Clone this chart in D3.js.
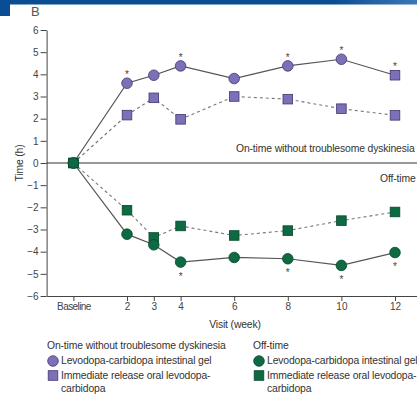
<!DOCTYPE html>
<html>
<head>
<meta charset="utf-8">
<script src="https://cdn.jsdelivr.net/npm/d3@7"></script>
<style>
  body { margin: 0; background: #fff; }
  svg { display: block; font-family: "Liberation Sans", Arial, sans-serif; }
  .tick text { font-size: 10px; fill: #444; }
  .lbl { font-size: 10.4px; fill: #333; letter-spacing: -0.15px; }
</style>
</head>
<body>
<div id="chart"></div>
<script>
// visit weeks (0 = baseline)
const weeks = [0, 2, 3, 4, 6, 8, 10, 12];
const weekLabels = ["Baseline", "2", "3", "4", "6", "8", "10", "12"];
const yTicks = [-6, -5, -4, -3, -2, -1, 0, 1, 2, 3, 4, 5, 6];

// change from baseline, hours
const lcigOn = [0, 3.6, 3.96, 4.38, 3.81, 4.38, 4.68, 3.96];
const oralOn = [0, 2.16, 2.94, 1.97, 3.0, 2.88, 2.45, 2.15];
const lcigOff = [0, -3.21, -3.69, -4.47, -4.26, -4.32, -4.62, -4.04];
const oralOff = [0, -2.13, -3.36, -2.84, -3.27, -3.05, -2.6, -2.21];

// weeks with a significance star
const starsOn = [2, 4, 8, 10, 12];
const starsOff = [4, 8, 10, 12];

const purple = { fill: "#7d6fb8", stroke: "#43376f" };
const green = { fill: "#0d6a42", stroke: "#06472b" };

const svgWidth = 417, svgHeight = 396;

const svg = d3.select("#chart")
  .append("svg")
  .attr("width", svgWidth)
  .attr("height", svgHeight);

// header banner pieces from the source page
const grad = svg.append("defs").append("linearGradient").attr("id", "ban");
grad.append("stop").attr("offset", "0.8").attr("stop-color", "#0b4d94");
grad.append("stop").attr("offset", "1").attr("stop-color", "#3d78b5");
svg.append("rect").attr("x", 0).attr("y", 0).attr("width", svgWidth).attr("height", 4.5).attr("fill", "url(#ban)");
svg.append("rect").attr("x", 0).attr("y", 0).attr("width", 10).attr("height", 16).attr("fill", "#0b4d94");

svg.append("text")
  .attr("x", 31).attr("y", 16)
  .attr("font-size", 13)
  .attr("fill", "#555")
  .text("B");

// scales
const x = d3.scaleLinear().domain([-1, 15]).range([46.6, 46.6 + 16 * 26.8]);
const y = d3.scaleLinear().domain([-6, 6]).range([296, 30]);

// y axis
const yAxis = svg.append("g")
  .attr("transform", `translate(${x(-1)},0)`)
  .call(d3.axisLeft(y).tickValues(yTicks).tickFormat(d3.format("d")).tickSize(6).tickSizeOuter(0));
yAxis.selectAll("text").attr("dx", "1");

// x axis
const xAxis = svg.append("g")
  .attr("transform", `translate(0,${y(-6)})`)
  .call(d3.axisBottom(x).tickValues(weeks).tickFormat((d, i) => weekLabels[i]).tickSize(5).tickSizeOuter(0));
xAxis.selectAll("text").attr("dy", "0.55em");
xAxis.selectAll(".tick text").filter(d => d === 0).attr("letter-spacing", "-0.6px").attr("font-size", 10);

svg.selectAll(".domain, .tick line").attr("stroke", "#444");

// zero line
svg.append("line")
  .attr("x1", x(-1)).attr("x2", svgWidth)
  .attr("y1", y(0)).attr("y2", y(0))
  .attr("stroke", "#333").attr("stroke-width", 1.1);

// axis titles
svg.append("text")
  .attr("class", "lbl")
  .attr("transform", `translate(23,${y(0)}) rotate(-90)`)
  .attr("text-anchor", "middle")
  .text("Time (h)");

svg.append("text")
  .attr("class", "lbl")
  .attr("x", 235).attr("y", 328)
  .attr("text-anchor", "middle")
  .text("Visit (week)");

// in-plot group labels
svg.append("text").attr("class", "lbl")
  .attr("x", 236).attr("y", 152)
  .text("On-time without troublesome dyskinesia");
svg.append("text").attr("class", "lbl")
  .attr("x", 380).attr("y", 182)
  .text("Off-time");

const series = [
  { key: "oralOn", vals: oralOn, col: purple, shape: "square", dash: "3,3" },
  { key: "lcigOn", vals: lcigOn, col: purple, shape: "circle", dash: null },
  { key: "oralOff", vals: oralOff, col: green, shape: "square", dash: "3,3" },
  { key: "lcigOff", vals: lcigOff, col: green, shape: "circle", dash: null }
];

const line = d3.line()
  .x((d, i) => x(weeks[i]))
  .y(d => y(d));

series.forEach(s => {
  svg.append("path")
    .datum(s.vals)
    .attr("d", line)
    .attr("fill", "none")
    .attr("stroke", s.dash ? "#777" : "#555")
    .attr("stroke-width", s.dash ? 1.1 : 1.2)
    .attr("stroke-dasharray", s.dash);
});

function drawMarker(g, shape, cx, cy, col) {
  if (shape === "circle") {
    g.append("circle")
      .attr("cx", cx).attr("cy", cy).attr("r", 5.3)
      .attr("fill", col.fill).attr("stroke", col.stroke).attr("stroke-width", 0.8);
  } else {
    g.append("rect")
      .attr("x", cx - 4.8).attr("y", cy - 4.8)
      .attr("width", 9.6).attr("height", 9.6)
      .attr("fill", col.fill).attr("stroke", col.stroke).attr("stroke-width", 0.8);
  }
}

const markers = svg.append("g");
series.forEach(s => {
  s.vals.forEach((v, i) => {
    // the week-12 LCIG on-time point is printed as a square in the source
    const shape = (s.key === "lcigOn" && i === weeks.length - 1) ? "square" : s.shape;
    drawMarker(markers, shape, x(weeks[i]), y(v), s.col);
  });
});

// significance stars
starsOn.forEach(w => {
  const v = lcigOn[weeks.indexOf(w)];
  svg.append("text")
    .attr("x", x(w)).attr("y", y(v) - 5)
    .attr("text-anchor", "middle")
    .attr("font-size", 10).attr("fill", "#444")
    .text("*");
});
starsOff.forEach(w => {
  const v = lcigOff[weeks.indexOf(w)];
  svg.append("text")
    .attr("x", x(w)).attr("y", y(v) + 17.5)
    .attr("text-anchor", "middle")
    .attr("font-size", 10).attr("fill", "#444")
    .text("*");
});

// legend
const legendCols = [
  { x: 47, title: "On-time without troublesome dyskinesia", col: purple },
  { x: 253, title: "Off-time", col: green }
];
legendCols.forEach(c => {
  svg.append("text").attr("class", "lbl").attr("x", c.x).attr("y", 349).text(c.title);
  drawMarker(svg, "circle", c.x + 6, 361, c.col);
  svg.append("text").attr("class", "lbl").attr("x", c.x + 14).attr("y", 364).text("Levodopa-carbidopa intestinal gel");
  drawMarker(svg, "square", c.x + 6, 375.5, c.col);
  svg.append("text").attr("class", "lbl").attr("x", c.x + 14).attr("y", 379).text("Immediate release oral levodopa-");
  svg.append("text").attr("class", "lbl").attr("x", c.x + 14).attr("y", 392).text("carbidopa");
});
</script>
</body>
</html>
